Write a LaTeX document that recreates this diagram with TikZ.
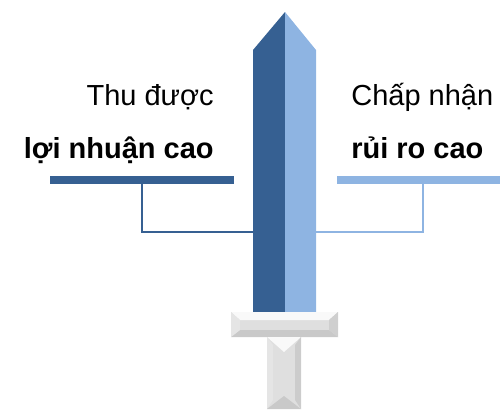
\documentclass[tikz,border=0pt]{standalone}
\usepackage{fontspec}
\setmainfont{Liberation Sans}
\definecolor{bladedark}{RGB}{54,96,146}
\definecolor{bladelight}{RGB}{142,180,226}
\tikzset{
  lbl/.style={inner sep=0pt, font=\fontsize{16.5}{20}\selectfont},
  lblb/.style={inner sep=0pt, font=\fontsize{16.5}{20}\selectfont\bfseries},
  bar/.style={line width=4pt},
  link/.style={line width=1.1pt},
}
\begin{document}
\begin{tikzpicture}[x=0.02cm,y=-0.02cm]
\useasboundingbox (0,0) rectangle (500,409);
% blade
\fill[bladedark] (253,312) -- (253,50) -- (285,12) -- (285,312) -- cycle;
\fill[bladelight] (285,312) -- (285,12) -- (316,50) -- (316,312) -- cycle;
% guard
\fill[gray!25] (231,312) rectangle (338,337);
\fill[gray!5] (231,312) -- (338,312) -- (329,320) -- (240,320) -- cycle;
\fill[gray!42] (231,337) -- (338,337) -- (329,330) -- (240,330) -- cycle;
\fill[gray!20] (231,312) -- (240,320) -- (240,330) -- (231,337) -- cycle;
\fill[gray!38] (338,312) -- (329,320) -- (329,330) -- (338,337) -- cycle;
% handle
\fill[gray!25] (267,337) rectangle (301,409);
\fill[gray!5] (267,337) -- (301,337) -- (284,352) -- cycle;
\fill[gray!20] (267,337) -- (273,345) -- (273,400) -- (267,409) -- cycle;
\fill[gray!40] (301,337) -- (295,345) -- (295,400) -- (301,409) -- cycle;
\fill[gray!42] (267,409) -- (301,409) -- (284,396) -- cycle;
% left side
\node[lbl, anchor=base east] (lt0) at (214,105) {Thu được};
\node[lblb, anchor=base east] (lt1) at (214,158) {lợi nhuận cao};
\coordinate (lb0) at (50,180);
\coordinate (lb1) at (234,180);
\draw[bar, bladedark] (lb0) -- (lb1);
\coordinate (lc0) at (142,180);
\coordinate (lc1) at (253,232);
\draw[link, bladedark] (lc0) |- (lc1);
% right side
\node[lbl, anchor=base west] (rt0) at (351,105) {Chấp nhận};
\node[lblb, anchor=base west] (rt1) at (351,158) {rủi ro cao};
\coordinate (rb0) at (337,180);
\coordinate (rb1) at (500,180);
\draw[bar, bladelight] (rb0) -- (rb1);
\coordinate (rc0) at (423,180);
\coordinate (rc1) at (316,232);
\draw[link, bladelight] (rc0) |- (rc1);
\end{tikzpicture}
\end{document}
